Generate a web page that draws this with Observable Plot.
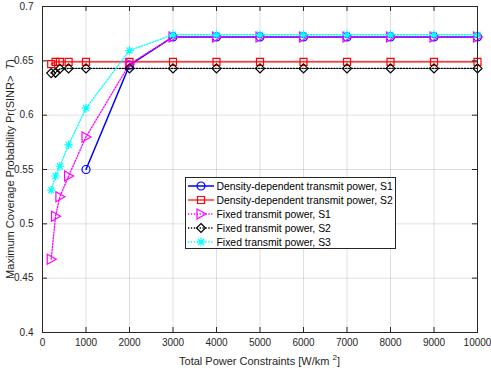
<!DOCTYPE html>
<html><head><meta charset="utf-8">
<script src="https://cdn.jsdelivr.net/npm/d3@7"></script>
<script src="https://cdn.jsdelivr.net/npm/@observablehq/plot@0.6"></script>
<style>
body{margin:0;background:#fff}
#chart{position:relative;width:491px;height:368px;font-family:"Liberation Sans",Arial,Helvetica,sans-serif}
#legend{position:absolute;left:184.5px;top:176.5px;width:211px;height:72px;background:#fff;border:1px solid #262626;box-sizing:border-box;font-size:10.4px;color:#000}
#legend .row{position:absolute;left:0;height:14px;display:flex;align-items:center;white-space:nowrap}
#legend svg{display:block}
</style>
</head><body><div id="chart"><div id="legend"></div></div>
<script>
// ---- data ----
const xTicks = [0,1000,2000,3000,4000,5000,6000,7000,8000,9000,10000];
const yTicks = [0.4,0.45,0.5,0.55,0.6,0.65,0.7];
const powersAll = [200,300,400,600,1000,2000,3000,4000,5000,6000,7000,8000,9000,10000];
const powersDD1 = [1000,2000,3000,4000,5000,6000,7000,8000,9000,10000];
const ddS1 = [0.550,0.646,0.672,0.672,0.672,0.672,0.672,0.672,0.672,0.672];
const ddS2 = [0.647,0.649,0.649,0.649,0.649,0.649,0.649,0.649,0.649,0.649,0.649,0.649,0.649,0.649];
const fxS1 = [0.4675,0.507,0.525,0.544,0.580,0.647,0.672,0.672,0.672,0.672,0.672,0.672,0.672,0.672];
const fxS2 = [0.6387,0.639,0.6427,0.643,0.643,0.643,0.643,0.643,0.643,0.643,0.643,0.643,0.643,0.643];
const fxS3 = [0.531,0.544,0.553,0.5727,0.6064,0.6595,0.674,0.674,0.674,0.674,0.674,0.674,0.674,0.674];
const seriesNames = ["Density-dependent transmit power, S1","Density-dependent transmit power, S2","Fixed transmit power, S1","Fixed transmit power, S2","Fixed transmit power, S3"];

// ---- marker shapes (MATLAB-like) ----
const rad = s => Math.sqrt(s/Math.PI);
const symSquare = {draw(c,s){const r=rad(s);c.moveTo(-r,-r);c.lineTo(r,-r);c.lineTo(r,r);c.lineTo(-r,r);c.closePath();}};
const symDiamond = {draw(c,s){const r=rad(s);c.moveTo(0,-r);c.lineTo(r,0);c.lineTo(0,r);c.lineTo(-r,0);c.closePath();}};
const symTriRight = {draw(c,s){const r=rad(s);c.moveTo(-0.8*r,-r);c.lineTo(r,0);c.lineTo(-0.8*r,r);c.closePath();}};
const symStar = {draw(c,s){const r=rad(s);const d=r*0.7071;c.moveTo(-r,0);c.lineTo(r,0);c.moveTo(0,-r);c.lineTo(0,r);c.moveTo(-d,-d);c.lineTo(d,d);c.moveTo(-d,d);c.lineTo(d,-d);}};

const mk = (xs, ys) => xs.map((x,i)=>({x, y: ys[i]}));
const styles = [
  {data: mk(powersDD1, ddS1), color:"#0000ff", sw:1.5, dash:null, symbol:"circle", r:4},
  {data: mk(powersAll, ddS2), color:"#ff0000", sw:1.2, dash:null, symbol:symSquare, r:3.5},
  {data: mk(powersAll, fxS1), color:"#ff00ff", sw:1.3, dash:"1.3 1.6", symbol:symTriRight, r:5},
  {data: mk(powersAll, fxS2), color:"#000000", sw:1.3, dash:"1.3 1.6", symbol:symDiamond, r:4.5},
  {data: mk(powersAll, fxS3), color:"#00ffff", sw:1.3, dash:"1.3 1.6", symbol:symStar, r:4.2}
];

const W=491, H=368, mL=42, mR=14, mT=6, mB=36;
const fh = H-mT-mB, fw = W-mL-mR, tl = 5;
const axisColor = "#262626";

const marks = [
  Plot.gridX(xTicks, {stroke:"#000", strokeOpacity:0.12, strokeWidth:1}),
  Plot.gridY(yTicks, {stroke:"#000", strokeOpacity:0.12, strokeWidth:1}),
  Plot.axisX(xTicks, {tickSize:0, tickPadding:6, tickFormat:d=>String(d), fontSize:10, fill:axisColor, label:null}),
  Plot.axisY(yTicks, {tickSize:0, tickPadding:9, tickFormat:d=>String(+d.toFixed(2)), fontSize:10, fill:axisColor, label:null}),
];
for (const s of styles) {
  marks.push(Plot.line(s.data, {x:"x", y:"y", stroke:s.color, strokeWidth:s.sw, strokeDasharray:s.dash}));
  marks.push(Plot.dot(s.data, {x:"x", y:"y", stroke:s.color, fill:"none", symbol:s.symbol, r:s.r, strokeWidth:1.2}));
}
marks.push(
  Plot.tickX(xTicks, {x:d=>d, stroke:axisColor, insetTop:fh-tl}),
  Plot.tickX(xTicks, {x:d=>d, stroke:axisColor, insetBottom:fh-tl}),
  Plot.tickY(yTicks, {y:d=>d, stroke:axisColor, insetRight:fw-tl}),
  Plot.tickY(yTicks, {y:d=>d, stroke:axisColor, insetLeft:fw-tl}),
  Plot.frame({stroke:axisColor, strokeWidth:1})
);

const chart = Plot.plot({
  width:W, height:H, marginLeft:mL, marginRight:mR, marginTop:mT, marginBottom:mB,
  style:{fontFamily:'"Liberation Sans",Arial,Helvetica,sans-serif', background:"#fff", overflow:"visible"},
  x:{domain:[0,10000]},
  y:{domain:[0.4,0.7]},
  marks
});
const root = document.getElementById("chart");
root.insertBefore(chart, root.firstChild);

// axis titles
const svg = d3.select(chart);
const xl = svg.append("text").attr("x", mL+fw/2).attr("y", H-3).attr("text-anchor","middle")
  .attr("font-size",11).attr("fill",axisColor);
xl.append("tspan").text("Total Power Constraints [W/km ");
xl.append("tspan").attr("dy",-5).attr("font-size",8).text("2");
xl.append("tspan").attr("dy",5).text("]");
const yl = svg.append("text").attr("transform",`translate(14,${mT+fh/2}) rotate(-90)`).attr("text-anchor","middle")
  .attr("font-size",11).attr("fill",axisColor);
yl.append("tspan").text("Maximum Coverage Probability Pr(SINR>\u00a0 ");
yl.append("tspan").attr("font-style","italic").text("T");
yl.append("tspan").text(")");

// legend
const leg = d3.select("#legend");
styles.forEach((s,i)=>{
  const row = leg.append("div").attr("class","row").style("top",(1.5+i*14)+"px");
  const g = row.append("svg").attr("width",30).attr("height",14);
  g.append("line").attr("x1",2).attr("x2",28).attr("y1",7).attr("y2",7)
    .attr("stroke",s.color).attr("stroke-width",s.sw).attr("stroke-dasharray",s.dash);
  const symType = s.symbol==="circle" ? d3.symbolCircle : s.symbol;
  g.append("path").attr("transform","translate(15,7)")
    .attr("d", d3.symbol().type(symType).size(Math.PI*s.r*s.r)())
    .attr("fill","none").attr("stroke",s.color).attr("stroke-width",1.2);
  row.append("span").style("margin-left","1px").text(seriesNames[i]);
});
</script>
</body></html>
